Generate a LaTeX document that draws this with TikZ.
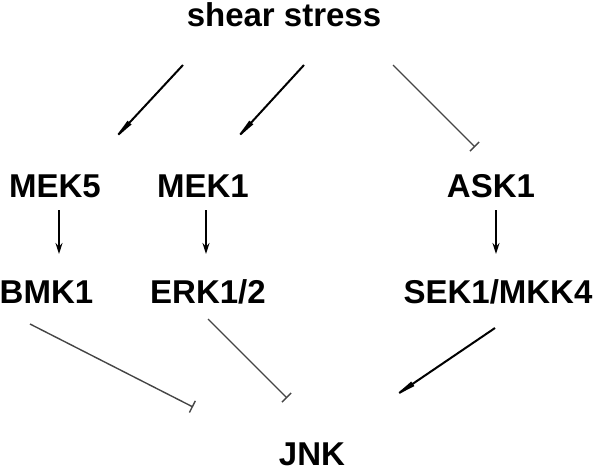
\documentclass[tikz,border=0pt]{standalone}
\usepackage{fontspec}
\setmainfont{Liberation Sans}
\usetikzlibrary{arrows.meta}
\definecolor{inhib}{HTML}{454545}
\tikzset{
  lbl/.style={font=\fontsize{33}{36}\selectfont\bfseries, inner sep=0pt, anchor=base},
  act/.style={line width=2pt, -{Latex[length=36pt,width=5.5pt]}},
  vact/.style={line width=1.6pt, -{Stealth[length=11pt,width=7pt]}},
  inh/.style={line width=1.4pt, color=inhib, -{Bar[width=13pt,line width=1.4pt]}}
}
\begin{document}
\begin{tikzpicture}[x=1pt,y=-1pt]
\useasboundingbox (0,0) rectangle (600,471);
\node[lbl] (ss) at (284,26) {shear stress};
\node[lbl] (mek5) at (55,197) {MEK5};
\node[lbl] (mek1) at (203,197) {MEK1};
\node[lbl] (ask1) at (491,197) {ASK1};
\node[lbl] (bmk1) at (46.5,303) {BMK1};
\node[lbl] (erk) at (208,303) {ERK1/2};
\node[lbl] (sek) at (498,303) {SEK1/MKK4};
\node[lbl] (jnk) at (312,465.5) {JNK};
% endpoints
\coordinate (a1) at (183,65);  \coordinate (b1) at (105,149);
\coordinate (a2) at (304,65);  \coordinate (b2) at (227,149);
\coordinate (a3) at (393,65);  \coordinate (b3) at (475,147);
\coordinate (v1a) at (59,210); \coordinate (v1b) at (59,254);
\coordinate (v2a) at (206,210); \coordinate (v2b) at (206,254);
\coordinate (v3a) at (496,210); \coordinate (v3b) at (496,254);
\coordinate (c1) at (30,324);  \coordinate (d1) at (193,407);
\coordinate (c2) at (208,319); \coordinate (d2) at (287,398);
\coordinate (c3) at (495,328); \coordinate (d3) at (383,404);
\draw[act] (a1) -- (b1);
\draw[act] (a2) -- (b2);
\draw[inh] (a3) -- (b3);
\draw[vact] (v1a) -- (v1b);
\draw[vact] (v2a) -- (v2b);
\draw[vact] (v3a) -- (v3b);
\draw[inh] (c1) -- (d1);
\draw[inh] (c2) -- (d2);
\draw[act] (c3) -- (d3);
\end{tikzpicture}
\end{document}
